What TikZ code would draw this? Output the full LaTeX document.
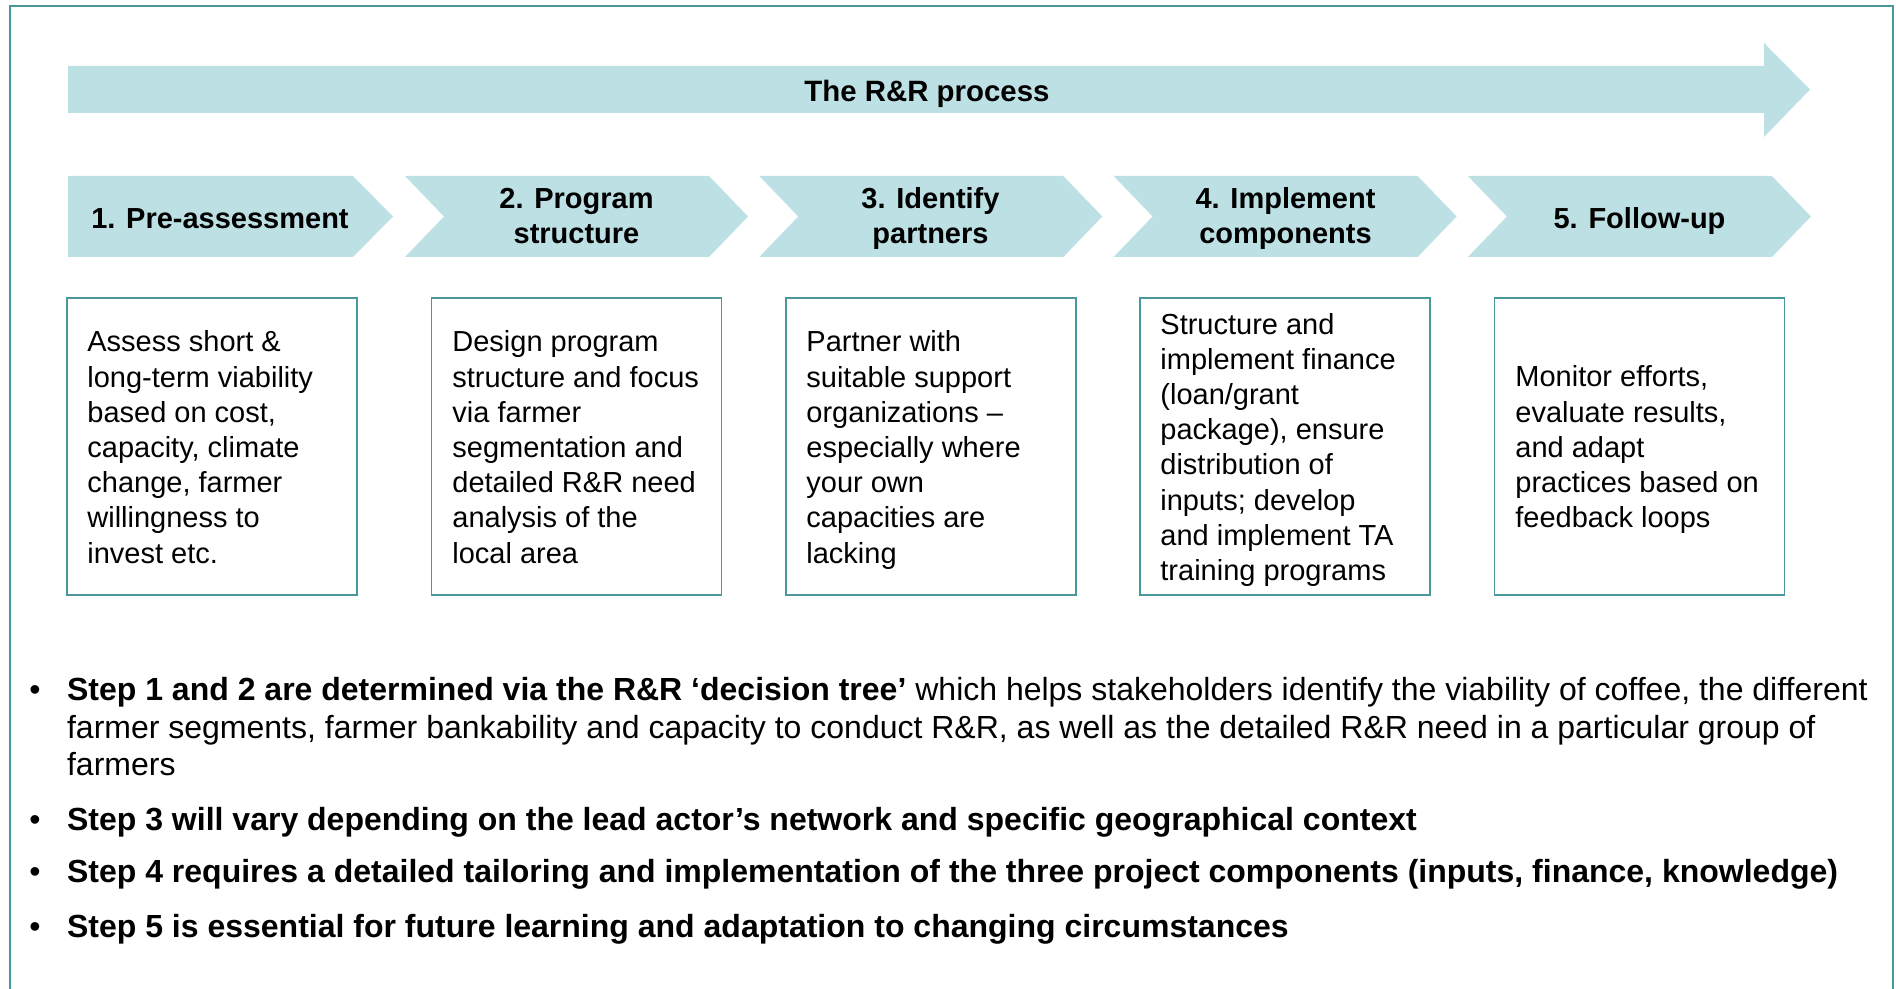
\documentclass[tikz,border=0pt]{standalone}
\usepackage{fontspec}
\setmainfont{Liberation Sans}
\definecolor{chev}{HTML}{BCE0E3}
\definecolor{tealb}{HTML}{4A979C}
\newcommand\firststrut{\rule{0pt}{12pt}}
\begin{document}
\begin{tikzpicture}[x=0.5pt,y=-0.5pt,
  lbl/.style={font=\fontsize{14.5}{17.5}\selectfont\bfseries, inner sep=0, anchor=base},
  body/.style={font=\fontsize{14.5}{17.6}\selectfont, align=left, inner sep=0, anchor=north west},
  stepbox/.style={draw=tealb, line width=0.75pt, minimum width=145pt, minimum height=148.5pt, inner sep=0},
  bline/.style={font=\fontsize{16}{19}\selectfont, inner sep=0, anchor=base west},
  bdot/.style={font=\fontsize{16}{19}\selectfont, inner sep=0, anchor=base},
  chevfill/.style={fill=chev}]
\useasboundingbox (0,0) rectangle (1896,989);
% outer frame
\draw[tealb, line width=1pt] (10,1000) -- (10,6) -- (1893,6) -- (1893,1000);
% big process arrow
\fill[chevfill] (68,66) -- (1764,66) -- (1764,43) -- (1810,89.5) -- (1764,137) -- (1764,113) -- (68,113) -- cycle;
\node[lbl, font=\fontsize{14.7}{17.5}\selectfont\bfseries] (title) at (927,101.7) {The R\&R process};
% chevrons
\fill[chevfill] (68,176) -- (353,176) -- (393,216.5) -- (353,257) -- (68,257) -- cycle;
\foreach \x in {405,759.3,1113.6,1467.9}{
  \fill[chevfill] (\x,176) -- (\x+304,176) -- (\x+343,216.5) -- (\x+304,257) -- (\x,257) -- (\x+39,216.5) -- cycle;
}
\node[lbl] (c1) at (220,228.5) {1. Pre-assessment};
\node[lbl] (c2a) at (576.5,209) {2. Program};
\node[lbl] (c2b) at (576.5,244) {structure};
\node[lbl] (c3a) at (930.5,209) {3. Identify};
\node[lbl] (c3b) at (930.5,244) {partners};
\node[lbl] (c4a) at (1285.5,209) {4. Implement};
\node[lbl] (c4b) at (1285.5,244) {components};
\node[lbl] (c5) at (1639.5,228.5) {5. Follow-up};
% boxes
\node[stepbox] (b1) at (212,446.5) {};
\node[stepbox] (b2) at (576.5,446.5) {};
\node[stepbox] (b3) at (931,446.5) {};
\node[stepbox] (b4) at (1285,446.5) {};
\node[stepbox] (b5) at (1639.5,446.5) {};
\node[body] (t1) at (87,327.4) {\firststrut Assess short \&\\long-term viability\\based on cost,\\capacity, climate\\change, farmer\\willingness to\\invest etc.};
\node[body] (t2) at (452,327.4) {\firststrut Design program\\structure and focus\\via farmer\\segmentation and\\detailed R\&R need\\analysis of the\\local area};
\node[body] (t3) at (806,327.4) {\firststrut Partner with\\suitable support\\organizations --\\especially where\\your own\\capacities are\\lacking};
\node[body] (t4) at (1160,309.6) {\firststrut Structure and\\implement finance\\(loan/grant\\package), ensure\\distribution of\\inputs; develop\\and implement TA\\training programs};
\node[body] (t5) at (1515,362.6) {\firststrut Monitor efforts,\\evaluate results,\\and adapt\\practices based on\\feedback loops};
% bullets
\node[bdot] (d1) at (35,700) {\textbullet};
\node[bline] (l1a) at (66.7,700) {\textbf{Step 1 and 2 are determined via the R\&R ‘decision tree’} which helps stakeholders identify the viability of coffee, the different};
\node[bline] (l1b) at (66.7,738.3) {farmer segments, farmer bankability and capacity to conduct R\&R, as well as the detailed R\&R need in a particular group of};
\node[bline] (l1c) at (66.7,775) {farmers};
\node[bdot] (d2) at (35,830) {\textbullet};
\node[bline] (l2) at (66.7,830) {\textbf{Step 3 will vary depending on the lead actor’s network and specific geographical context}};
\node[bdot] (d3) at (35,882.7) {\textbullet};
\node[bline] (l3) at (66.7,882.7) {\textbf{Step 4 requires a detailed tailoring and implementation of the three project components (inputs, finance, knowledge)}};
\node[bdot] (d4) at (35,937.7) {\textbullet};
\node[bline] (l4) at (66.7,937.7) {\textbf{Step 5 is essential for future learning and adaptation to changing circumstances}};
\end{tikzpicture}
\end{document}
